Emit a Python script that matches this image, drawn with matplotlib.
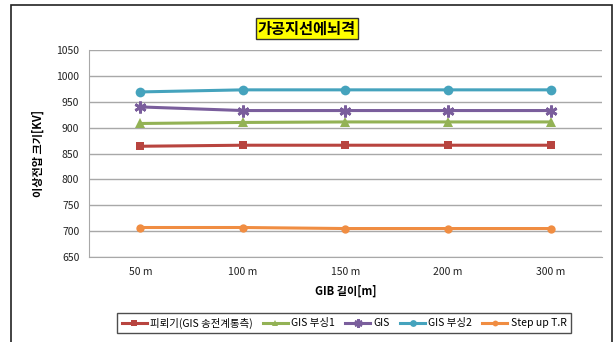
import matplotlib.pyplot as plt
from matplotlib.patches import Rectangle

plt.rcParams['font.family'] = ['Noto Sans CJK KR', 'DejaVu Sans']

# GIB length categories
categories = ["50 m", "100 m", "150 m", "200 m", "300 m"]
# overvoltage [kV] per location
arrester = [864, 866, 866, 866, 866]
bushing1 = [908, 910, 911, 911, 911]
gis = [940, 933, 933, 933, 933]
bushing2 = [969, 973, 973, 973, 973]
step_up = [707, 707, 705, 705, 705]

labels = ["피뢰기(GIS 송전계통측)", "GIS 부싱1", "GIS", "GIS 부싱2", "Step up T.R"]
colors = ["#B8443F", "#93B255", "#7A5E9C", "#45A3BD", "#F08D42"]
markers = ["s", "^", (6, 2, 0), "o", "o"]
msizes = [6, 7, 8.5, 7, 6]

fig = plt.figure(figsize=(6.15, 3.42), dpi=100)
ax = fig.add_axes([89 / 615, 1 - 257 / 342, 513 / 615, 207 / 342])

x = list(range(len(categories)))
series = [arrester, bushing1, gis, bushing2, step_up]
for vals, lab, c, m, ms in zip(series, labels, colors, markers, msizes):
    ax.plot(x, vals, color=c, lw=2.2, marker=m, ms=ms, mew=2 if m == (6, 2, 0) else 0,
            mec=c, label=lab, zorder=3)

ax.set_xlim(-0.5, 4.5)
ax.set_ylim(650, 1050)
ax.set_yticks(range(650, 1051, 50))
ax.set_xticks(x)
ax.set_xticklabels(categories)
ax.tick_params(axis='both', length=0, labelsize=7.5, colors="#222222", pad=7)
ax.grid(axis='y', color="#A8A8A8", lw=1)
ax.set_axisbelow(True)
for s in ["top", "right"]:
    ax.spines[s].set_visible(False)
for s in ["left", "bottom"]:
    ax.spines[s].set_color("#A8A8A8")

ax.set_xlabel("GIB 길이[m]", fontsize=8, fontweight='bold', labelpad=6)
ax.set_ylabel("이상전압 크기[KV]", fontsize=8, fontweight='bold', labelpad=8)

fig.text(307 / 615, 1 - 28.5 / 342, "가공지선에뇌격", ha='center', va='center', fontsize=11,
         fontweight='bold', bbox=dict(boxstyle='square,pad=0.15', fc="#FFFF00", ec="#333333", lw=1))

leg = fig.legend(loc='center', bbox_to_anchor=(344 / 615, 1 - 323 / 342), ncol=5, fontsize=7.5,
                 frameon=True, fancybox=False, edgecolor="#222222", handlelength=2.4,
                 columnspacing=1.0, handletextpad=0.3, borderpad=0.4, markerscale=0.7)
leg.get_frame().set_linewidth(1)

# outer chart border
fig.patches.append(Rectangle((11 / 615, -0.01), 601 / 615, 1 - 5 / 342 + 0.01, transform=fig.transFigure,
                             fill=False, ec="#222222", lw=1.2))

fig.savefig("out.png", dpi=100)
